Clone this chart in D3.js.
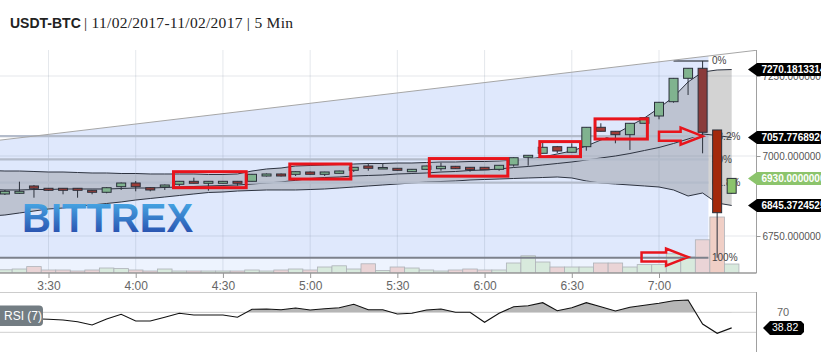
<!DOCTYPE html>
<html>
<head>
<meta charset="utf-8">
<script src="https://cdn.jsdelivr.net/npm/d3@7"></script>
<style>
html, body { margin: 0; padding: 0; background: #fff; }
svg { display: block; font-family: "Liberation Sans", Arial, sans-serif; }
</style>
</head>
<body>
<svg id="chart" width="821" height="352"></svg>
<script>
// 5 minute candles, 03:15 -> 07:25
const candleStart = "03:15";
const bandStart = "03:10";   // band lines start one bar earlier (left edge)
const stepMinutes = 5;

const opens = [6881.3, 6883.4, 6906.3, 6899.1, 6899.1, 6899.1, 6892.8, 6886.6, 6904.1, 6915.6,
  6900.9, 6903.1, 6911.6, 6920.9, 6914.7, 6914.7, 6920.9, 6920.9, 6937.5, 6943.8,
  6942.8, 6950.0, 6942.8, 6945.9, 6955.3, 6968.8, 6963.4, 6961.6, 6950.9, 6958.4,
  6960.3, 6967.8, 6964.7, 6964.7, 6958.4, 6971.9, 6995.9, 7008.4, 7029.1, 7011.6,
  7029.1, 7089.7, 7077.2, 7066.6, 7102.2, 7125.0, 7169.7, 7242.8, 7274.1, 7081.3, 6883.4];
const highs = [6893.8, 6919.7, 6909.4, 6900.0, 6900.0, 6900.0, 6893.8, 6903.1, 6917.2, 6921.9,
  6903.1, 6910.9, 6921.9, 6932.2, 6921.9, 6921.9, 6921.9, 6943.8, 6945.3, 6945.3,
  6951.6, 6951.6, 6950.6, 6954.1, 6965.6, 6977.2, 6977.2, 6962.5, 6959.4, 6969.7,
  6979.1, 6968.8, 6965.6, 6965.6, 6971.9, 6995.9, 7003.1, 7041.6, 7031.3, 7039.7,
  7090.6, 7102.2, 7078.1, 7103.1, 7120.6, 7168.8, 7243.8, 7275.0, 7297.0, 7081.3, 6931.0];
const lows = [6878.1, 6881.3, 6869.7, 6890.6, 6880.3, 6869.7, 6880.3, 6883.4, 6893.8, 6889.7,
  6889.7, 6893.8, 6906.3, 6914.1, 6891.6, 6914.1, 6907.2, 6920.3, 6935.9, 6935.9,
  6937.5, 6942.2, 6937.5, 6945.3, 6950.0, 6954.1, 6962.5, 6954.1, 6950.0, 6957.2,
  6954.1, 6959.4, 6950.9, 6956.3, 6954.1, 6966.6, 6969.7, 7007.8, 7009.4, 7010.9,
  7016.6, 7076.6, 7039.7, 7018.8, 7101.6, 7114.7, 7166.6, 7190.6, 7008.4, 6682.0, 6882.0];
const closes = [6889.7, 6889.7, 6899.1, 6892.8, 6892.8, 6892.8, 6886.6, 6900.9, 6915.6, 6904.1,
  6893.8, 6909.4, 6920.9, 6914.7, 6920.9, 6920.9, 6914.7, 6942.8, 6943.8, 6937.5,
  6950.9, 6942.8, 6950.0, 6953.1, 6964.7, 6961.6, 6964.1, 6955.3, 6958.4, 6968.8,
  6967.8, 6960.3, 6957.2, 6957.2, 6970.9, 6994.7, 7002.2, 7027.2, 7015.6, 7027.2,
  7089.7, 7077.2, 7066.6, 7102.2, 7119.7, 7167.8, 7242.8, 7274.1, 7074.1, 6822.8, 6930.0];
const volumes = [0.8, 1.0, 1.6, 0.75, 0.75, 0.5, 0.75, 1.25, 1.1, 0.75,
  0.5, 1.0, 0.5, 0.5, 0.5, 0.5, 0.5, 0.75, 0.5, 0.75,
  1.0, 0.75, 1.5, 1.8, 1.0, 2.3, 0.65, 1.5, 1.25, 0.75,
  0.5, 0.75, 1.0, 0.75, 0.75, 2.5, 4.3, 2.75, 1.5, 1.5,
  1.5, 2.5, 2.5, 1.5, 2.1, 2.1, 4.8, 4.0, 8.3, 14.0, 2.25];
const rsiValues = [58, 58, 57, 56, 54.6, 51.2, 44.6, 56.6, 66, 52.6,
  52.6, 60, 68, 64.6, 64.6, 64.6, 60, 76, 76.6, 75.2,
  78.6, 74.6, 77.2, 79.2, 86, 75.2, 75.2, 66.6, 68, 74.6,
  76.6, 70, 70, 50, 68, 81.2, 83.2, 89.2, 73.2, 79.2,
  89.2, 81.2, 72.6, 80, 84, 88, 93.2, 94.6, 46.6, 28, 38.82];

// bollinger bands, 03:10 -> 07:25
const bbUpper = [6954.7, 6953.1, 6953.1, 6951.6, 6950.0, 6950.0, 6948.4, 6946.9, 6946.9, 6945.3,
  6945.3, 6943.8, 6943.8, 6943.8, 6943.8, 6942.2, 6942.2, 6943.8, 6953.1, 6959.4,
  6962.5, 6968.8, 6970.3, 6971.9, 6973.4, 6975.0, 6976.6, 6976.6, 6978.1, 6978.1,
  6979.7, 6981.3, 6981.3, 6982.8, 6982.8, 6984.4, 6987.5, 6990.6, 6996.9, 7006.3,
  7015.6, 7031.3, 7050.0, 7068.8, 7093.8, 7118.8, 7150.0, 7184.4, 7231.3, 7262.5,
  7268.8, 7270.18133145];
const bbMiddle = [6895.3, 6893.8, 6893.8, 6895.3, 6895.3, 6896.9, 6896.9, 6896.9, 6896.9, 6898.4,
  6900.0, 6900.0, 6901.6, 6903.1, 6904.7, 6906.3, 6907.8, 6909.4, 6912.5, 6915.6,
  6918.8, 6924.0, 6929.7, 6932.8, 6934.4, 6937.5, 6939.1, 6940.6, 6943.8, 6945.3,
  6946.9, 6950.0, 6951.6, 6954.7, 6956.3, 6959.4, 6964.1, 6967.2, 6971.9, 6976.6,
  6981.3, 6987.5, 6993.8, 7000.0, 7007.8, 7017.2, 7026.6, 7039.1, 7053.1, 7068.8,
  7064.1, 7057.776892];
const bbLower = [6812.5, 6815.6, 6821.9, 6828.1, 6834.4, 6837.5, 6843.8, 6846.9, 6851.6, 6856.3,
  6862.5, 6867.2, 6871.9, 6876.6, 6881.3, 6885.9, 6887.5, 6890.6, 6892.2, 6893.8,
  6893.8, 6893.8, 6895.3, 6896.9, 6900.0, 6903.1, 6906.3, 6909.4, 6912.5, 6915.6,
  6918.8, 6920.3, 6921.9, 6925.0, 6926.6, 6928.1, 6929.7, 6931.3, 6932.8, 6934.4,
  6931.3, 6921.9, 6915.6, 6912.5, 6909.4, 6906.3, 6903.1, 6893.8, 6875.0, 6884.4,
  6853.1, 6845.37245255];

const priceTicks = [6750, 7000, 7250];
const timeTicks = ["03:30", "04:00", "04:30", "05:00", "05:30", "06:00", "06:30", "07:00"];

// fibonacci retracement drawn on the spike
const fibHigh = 7297, fibLow = 6682;
const fibLevels = [0, 0.382, 0.5, 0.618, 1];
const fibNames = ["0%", "38.2%", "50%", "61.8%", "100%"];
const fibEnd = "07:17";
const fibZeroStart = "07:05";
const trendPoints = [["03:10", 7046], ["07:35", 7332]];

// hand drawn annotations: [from, to, top price, bottom price]
const boxes = [
  ["04:13", "04:38", 6951, 6901],
  ["04:53", "05:14", 6975, 6928],
  ["05:41", "06:08", 6992, 6937],
  ["06:19", "06:33", 7045, 6998],
  ["06:38", "06:56", 7116, 7053]
];
const arrows = [["07:00", "07:15", 7062], ["06:54", "07:10", 6684]];

const parseTime = d3.timeParse("%H:%M");
const minutes = (t, k) => d3.timeMinute.offset(parseTime(t), k * stepMinutes);

const candles = opens.map((o, i) => ({
  t: minutes(candleStart, i), o: o, h: highs[i], l: lows[i], c: closes[i], v: volumes[i], rsi: rsiValues[i], i: i
}));
const bands = bbUpper.map((u, i) => ({t: minutes(bandStart, i), u: u, m: bbMiddle[i], lo: bbLower[i]}));

const svg = d3.select("#chart");
const W = 821, panelRight = 756.5, mainTop = 50, mainBottom = 273;

const x = d3.scaleTime().domain([parseTime("03:30"), parseTime("07:00")]).range([48.5, 659]);
const y = d3.scaleLinear().domain([6750, 7250]).range([236, 76]);
const yVol = d3.scaleLinear().domain([0, 10]).range([mainBottom, mainBottom - 40]);
const yRsi = d3.scaleLinear().domain([30, 70]).range([332.3, 312.3]);
const barW = x(minutes(candleStart, 1)) - x(minutes(candleStart, 0));

const defs = svg.append("defs");
defs.append("clipPath").attr("id", "mainClip")
  .append("rect").attr("x", 0).attr("y", mainTop).attr("width", panelRight).attr("height", mainBottom - mainTop);
defs.append("clipPath").attr("id", "rsiClip")
  .append("rect").attr("x", 0).attr("y", 290).attr("width", panelRight).attr("height", yRsi(70) - 290);
const grad = defs.append("linearGradient").attr("id", "logoGrad")
  .attr("x1", 0).attr("y1", 0).attr("x2", 0).attr("y2", 1);
grad.append("stop").attr("offset", "0%").attr("stop-color", "#4cb8ef");
grad.append("stop").attr("offset", "100%").attr("stop-color", "#2340a4");

// title
const title = svg.append("text").attr("x", 10).attr("y", 28).attr("fill", "#222");
title.append("tspan").attr("font-weight", "bold").attr("font-size", 14).text("USDT-BTC");
svg.append("text").attr("x", 84).attr("y", 28).attr("fill", "#222")
  .attr("font-family", "'Liberation Serif', 'DejaVu Serif', serif")
  .attr("font-size", 15.5).attr("textLength", 209).attr("lengthAdjust", "spacing")
  .text("| 11/02/2017-11/02/2017 | 5 Min");

const main = svg.append("g").attr("clip-path", "url(#mainClip)");

// blue fib zone under the trend line
const trendScale = d3.scaleTime().domain(trendPoints.map(p => parseTime(p[0])))
  .range(trendPoints.map(p => p[1]));
const zone = [parseTime(trendPoints[0][0]), parseTime(fibEnd)];
main.append("path")
  .datum(zone)
  .attr("fill", "#dfe8fc")
  .attr("d", d3.area().x(d => x(d)).y0(y(fibLow)).y1(d => y(trendScale(d))));
main.append("rect")
  .attr("x", 0).attr("y", y(fibLow))
  .attr("width", x(parseTime(fibEnd))).attr("height", mainBottom - y(fibLow))
  .attr("fill", "#edf3fe");

// grid
main.selectAll(".vgrid").data(timeTicks).enter().append("line")
  .attr("x1", d => x(parseTime(d))).attr("x2", d => x(parseTime(d)))
  .attr("y1", mainTop).attr("y2", mainBottom)
  .attr("stroke", "rgba(110,125,150,0.18)");
main.selectAll(".hgrid").data(priceTicks).enter().append("line")
  .attr("x1", 0).attr("x2", panelRight)
  .attr("y1", d => y(d)).attr("y2", d => y(d))
  .attr("stroke", "rgba(110,125,150,0.18)");

// bollinger bands
main.append("path").datum(bands)
  .attr("fill", "#707070").attr("fill-opacity", 0.31)
  .attr("d", d3.area().x(d => x(d.t)).y0(d => y(d.lo)).y1(d => y(d.u)));
["u", "m", "lo"].forEach(k => {
  main.append("path").datum(bands)
    .attr("fill", "none").attr("stroke", "#2d3340").attr("stroke-width", 1)
    .attr("d", d3.line().x(d => x(d.t)).y(d => y(d[k])));
});

// logo
main.append("text")
  .attr("x", 22).attr("y", 232)
  .attr("font-size", 40).attr("font-weight", "bold")
  .attr("fill", "url(#logoGrad)")
  .text("BITTREX");

// volume
main.selectAll(".vol").data(candles).enter().append("rect")
  .attr("x", d => x(d.t) - barW / 2).attr("width", barW)
  .attr("y", d => yVol(d.v)).attr("height", d => mainBottom - yVol(d.v))
  .attr("fill", d => d.c >= d.o ? "#d8eadd" : (d.i === candles.length - 2 ? "#f0cfc6" : "#ead4d6"))
  .attr("stroke", "#aeb2b8").attr("stroke-width", 0.8);

// fib levels
const fibG = main.append("g");
fibLevels.forEach((lv, k) => {
  const p = fibHigh - lv * (fibHigh - fibLow);
  const x0 = lv === 0 ? x(parseTime(fibZeroStart)) : 0;
  fibG.append("line")
    .attr("x1", x0).attr("x2", x(parseTime(fibEnd)))
    .attr("y1", y(p)).attr("y2", y(p))
    .attr("stroke", lv === 1 ? "#7c818b" : (lv === 0 ? "#555a63" : "#b4bccb"))
    .attr("stroke-width", lv === 0 ? 1.5 : 2.2);
  fibG.append("text")
    .attr("x", 712).attr("y", y(p) + 3.5)
    .attr("font-size", 10).attr("fill", "#444")
    .text(fibNames[k]);
});

// trend line
main.append("path").datum(trendPoints)
  .attr("fill", "none").attr("stroke", "#a6a6a6").attr("stroke-width", 1)
  .attr("d", d3.line().x(d => x(parseTime(d[0]))).y(d => y(d[1])));

// candles
const candleG = main.selectAll(".candle").data(candles).enter().append("g");
candleG.append("line")
  .attr("x1", d => x(d.t)).attr("x2", d => x(d.t))
  .attr("y1", d => y(d.h)).attr("y2", d => y(d.l))
  .attr("stroke", "#2b303b").attr("stroke-width", 1);
candleG.append("rect")
  .attr("x", d => x(d.t) - 4.5).attr("width", 9)
  .attr("y", d => y(Math.max(d.o, d.c)))
  .attr("height", d => Math.max(1.5, Math.abs(y(d.o) - y(d.c))))
  .attr("fill", d => {
    if (d.i === candles.length - 1) return "#8cc46c";
    if (d.i === candles.length - 2) return "#a3290b";
    if (d.i === candles.length - 3) return "#8a3b3b";
    return d.c >= d.o ? "#80b38f" : "#9e3d37";
  })
  .attr("stroke", "#2b303b").attr("stroke-width", 1);

// annotations
main.selectAll(".box").data(boxes).enter().append("rect")
  .attr("x", d => x(parseTime(d[0]))).attr("y", d => y(d[2]))
  .attr("width", d => x(parseTime(d[1])) - x(parseTime(d[0])))
  .attr("height", d => y(d[3]) - y(d[2]))
  .attr("fill", "none").attr("stroke", "#e8141c").attr("stroke-width", 3);
main.selectAll(".arrow").data(arrows).enter().append("path")
  .attr("fill", "none").attr("stroke", "#e8141c").attr("stroke-width", 2.5)
  .attr("stroke-linejoin", "miter")
  .attr("d", d => {
    const x0 = x(parseTime(d[0])), x1 = x(parseTime(d[1])), yc = y(d[2]);
    const xh = x1 - 22;
    return d3.line()([[x0, yc - 4.5], [xh, yc - 4.5], [xh, yc - 8.5], [x1, yc],
      [xh, yc + 8.5], [xh, yc + 4.5], [x0, yc + 4.5]]) + "Z";
  });

// frame and axes
svg.append("line").attr("x1", panelRight).attr("x2", panelRight).attr("y1", mainTop).attr("y2", mainBottom)
  .attr("stroke", "#a0a0a0");
svg.append("line").attr("x1", 0).attr("x2", panelRight).attr("y1", mainBottom).attr("y2", mainBottom)
  .attr("stroke", "#9a9a9a").attr("stroke-width", 1.5);

const xAxis = svg.append("g").attr("transform", `translate(0,${mainBottom})`)
  .call(d3.axisBottom(x).tickValues(timeTicks.map(parseTime))
    .tickFormat(d3.timeFormat("%-H:%M")).tickSize(5).tickPadding(3));
xAxis.select(".domain").remove();
xAxis.selectAll("line").attr("stroke", "#999");
xAxis.selectAll("text").attr("font-size", 12).attr("fill", "#666")
  .attr("font-family", "'Liberation Sans', Arial, sans-serif");

const yAxis = svg.append("g").attr("transform", `translate(${panelRight},0)`)
  .call(d3.axisRight(y).tickValues(priceTicks).tickFormat(d3.format(".8f")).tickSize(4).tickPadding(2));
yAxis.select(".domain").remove();
yAxis.selectAll("line").attr("stroke", "#999");
yAxis.selectAll("text").attr("font-size", 10).attr("fill", "#555")
  .attr("font-family", "'Liberation Sans', Arial, sans-serif");

// price tags on the right
const tags = [
  {v: bbUpper[bbUpper.length - 1], fill: "#000"},
  {v: bbMiddle[bbMiddle.length - 1], fill: "#000"},
  {v: bbLower[bbLower.length - 1], fill: "#000"},
  {v: closes[closes.length - 1], fill: "#8cc46c"}
];
const tagG = svg.selectAll(".tag").data(tags).enter().append("g");
tagG.append("path")
  .attr("fill", d => d.fill)
  .attr("d", d => {
    const yc = y(d.v);
    return d3.line()([[748, yc], [757, yc - 6.5], [W + 2, yc - 6.5], [W + 2, yc + 6.5], [757, yc + 6.5]]) + "Z";
  });
tagG.append("text")
  .attr("x", 761.5).attr("y", d => y(d.v) + 3.6)
  .attr("font-size", 10).attr("font-weight", "bold").attr("fill", "#fff")
  .text(d => d3.format(".8f")(d.v));

// RSI panel
svg.append("line").attr("x1", 0).attr("x2", panelRight).attr("y1", 292.5).attr("y2", 292.5).attr("stroke", "#ccc");
[70, 30].forEach(v => {
  svg.append("line").attr("x1", 0).attr("x2", panelRight)
    .attr("y1", yRsi(v)).attr("y2", yRsi(v)).attr("stroke", "#cfcfcf");
});
svg.append("line").attr("x1", panelRight).attr("x2", panelRight).attr("y1", 292).attr("y2", 352).attr("stroke", "#a0a0a0");

svg.append("path").datum(candles)
  .attr("clip-path", "url(#rsiClip)")
  .attr("fill", "#b6b6b6")
  .attr("d", d3.area().x(d => x(d.t)).y0(yRsi(70)).y1(d => yRsi(d.rsi)));
svg.append("path").datum(candles)
  .attr("fill", "none").attr("stroke", "#111").attr("stroke-width", 1.1)
  .attr("d", d3.line().x(d => x(d.t)).y(d => yRsi(d.rsi)));

svg.append("text").attr("x", 777).attr("y", yRsi(70) + 4)
  .attr("font-size", 11).attr("fill", "#666").text("70");

svg.append("rect").attr("x", -6).attr("y", 305.5).attr("width", 49).attr("height", 20.5).attr("rx", 4)
  .attr("fill", "#737d83");
svg.append("text").attr("x", 4).attr("y", 320).attr("font-size", 12).attr("fill", "#fff").text("RSI (7)");

const lastRsi = rsiValues[rsiValues.length - 1];
svg.append("path").attr("fill", "#000")
  .attr("d", () => {
    const yc = yRsi(lastRsi);
    return d3.line()([[763, yc], [770, yc - 7], [801, yc - 7], [804, yc - 4], [804, yc + 4], [801, yc + 7], [770, yc + 7]]) + "Z";
  });
svg.append("text").attr("x", 772).attr("y", yRsi(lastRsi) + 3.6)
  .attr("font-size", 10.5).attr("fill", "#fff").text(d3.format(".2f")(lastRsi));
</script>
</body>
</html>
